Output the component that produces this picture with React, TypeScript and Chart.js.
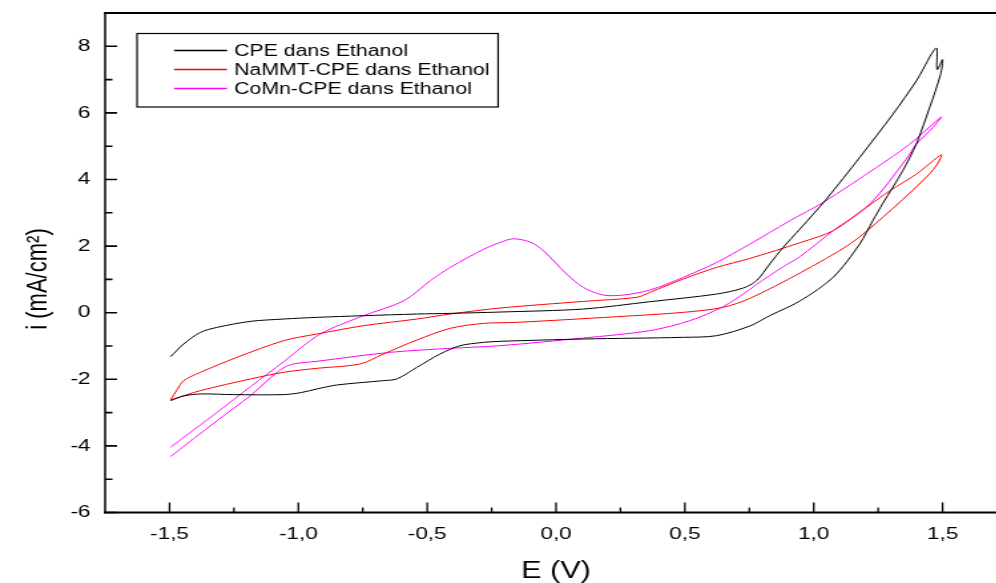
import React, { useEffect, useRef } from 'react';
import { Chart, registerables } from 'chart.js';

Chart.register(...registerables);

// The reference picture is stretched horizontally; the canvas is drawn narrow and widened by CSS.
const STRETCH = 1.33;
const CANVAS_W = 757;
const CANVAS_H = 583;
const FONT = '"Liberation Sans", Arial, Helvetica, sans-serif';

// Axis ticks
const xTicks = [-1.5, -1.0, -0.5, 0.0, 0.5, 1.0, 1.5];
const xMinorTicks = [-1.25, -0.75, -0.25, 0.25, 0.75, 1.25];
const yTicks = [-6, -4, -2, 0, 2, 4, 6, 8];
const yMinorTicks = [-5, -3, -1, 1, 3, 5, 7];

const xTitle = 'E (V)';
const yTitle = 'i (mA/cm²)';

const seriesLabels = ['CPE dans Ethanol', 'NaMMT-CPE dans Ethanol', 'CoMn-CPE dans Ethanol'];
const seriesColors = ['#000000', '#ff0000', '#ff00ff'];

// CPE dans Ethanol (black)
const cpeE = [-1.496, -1.445, -1.38, -1.315, -1.186, -1.057, -0.928, -0.747, -0.54, -0.411, -0.217, 0.106, 0.364, 0.623, 0.726, 0.778, 0.829, 0.881, 0.946, 1.049, 1.178, 1.307, 1.398, 1.475, 1.479, 1.5, 1.492, 1.45, 1.398, 1.346, 1.267, 1.229, 1.178, 1.075, 0.946, 0.829, 0.752, 0.623, 0.493, 0.106, -0.217, -0.28, -0.372, -0.45, -0.54, -0.618, -0.67, -0.85, -0.928, -0.99, -1.057, -1.25, -1.38, -1.445, -1.496];
const cpeI = [-1.32, -0.94, -0.59, -0.44, -0.26, -0.19, -0.14, -0.09, -0.04, -0.02, 0.02, 0.11, 0.33, 0.56, 0.74, 0.96, 1.46, 1.96, 2.51, 3.41, 4.66, 5.96, 6.96, 7.95, 7.3, 7.6, 7.15, 6.17, 5.07, 4.27, 3.27, 2.76, 2.06, 1.06, 0.35, -0.09, -0.4, -0.69, -0.74, -0.79, -0.86, -0.89, -0.99, -1.24, -1.64, -1.99, -2.04, -2.17, -2.29, -2.4, -2.46, -2.46, -2.44, -2.5, -2.64];

// NaMMT-CPE dans Ethanol (red)
const nammtE = [-1.496, -1.47, -1.445, -1.38, -1.238, -1.057, -0.928, -0.747, -0.54, -0.411, -0.217, 0.106, 0.312, 0.364, 0.493, 0.623, 0.752, 0.946, 1.075, 1.204, 1.295, 1.398, 1.495, 1.475, 1.423, 1.267, 1.14, 0.946, 0.752, 0.648, 0.493, 0.235, -0.153, -0.28, -0.411, -0.54, -0.67, -0.76, -0.928, -1.057, -1.186, -1.38, -1.496];
const nammtI = [-2.62, -2.3, -2.04, -1.79, -1.34, -0.84, -0.64, -0.39, -0.19, -0.04, 0.14, 0.34, 0.46, 0.61, 1.01, 1.36, 1.63, 2.1, 2.46, 3.16, 3.66, 4.16, 4.74, 4.41, 3.96, 2.86, 2.06, 1.19, 0.43, 0.16, 0.01, -0.12, -0.29, -0.32, -0.47, -0.82, -1.24, -1.54, -1.67, -1.79, -1.99, -2.34, -2.62];

// CoMn-CPE dans Ethanol (magenta)
const comnE = [-1.496, -1.315, -1.186, -1.057, -0.915, -0.747, -0.59, -0.488, -0.411, -0.28, -0.217, -0.166, -0.1, -0.049, 0.041, 0.106, 0.183, 0.261, 0.364, 0.493, 0.623, 0.752, 0.907, 1.036, 1.243, 1.372, 1.495, 1.462, 1.398, 1.359, 1.217, 1.075, 0.946, 0.881, 0.778, 0.752, 0.648, 0.519, 0.364, 0.106, -0.217, -0.411, -0.643, -0.928, -1.03, -1.083, -1.186, -1.315, -1.496];
const comnI = [-4.04, -2.99, -2.22, -1.47, -0.64, -0.09, 0.36, 0.96, 1.36, 1.91, 2.11, 2.22, 2.12, 1.86, 1.16, 0.76, 0.53, 0.53, 0.68, 1.06, 1.51, 2.06, 2.76, 3.31, 4.36, 5.06, 5.88, 5.56, 5.06, 4.61, 3.26, 2.46, 1.68, 1.38, 0.85, 0.7, 0.18, -0.24, -0.54, -0.76, -0.99, -1.07, -1.19, -1.46, -1.56, -1.79, -2.49, -3.24, -4.32];

const seriesE = [cpeE, nammtE, comnE];
const seriesI = [cpeI, nammtI, comnI];

const toPoints = (xs: number[], ys: number[]) => xs.map((x, k) => ({ x, y: ys[k] }));

const decorPlugin = {
  id: 'decor',
  afterDraw(chart: any) {
    const { ctx, chartArea: a, scales } = chart;
    const xs = scales.x;
    const ys = scales.y;
    ctx.save();
    ctx.strokeStyle = '#000';
    ctx.fillStyle = '#000';
    ctx.lineCap = 'butt';

    // frame: left axis, bottom axis, top border
    ctx.lineWidth = 1.5;
    ctx.beginPath();
    ctx.moveTo(a.left, a.top - 1);
    ctx.lineTo(a.left, a.bottom + 1);
    ctx.stroke();
    ctx.lineWidth = 2;
    ctx.beginPath();
    ctx.moveTo(a.left - 0.75, a.bottom);
    ctx.lineTo(a.right, a.bottom);
    ctx.moveTo(a.left - 0.75, a.top);
    ctx.lineTo(a.right, a.top);
    ctx.stroke();

    // inward ticks
    ctx.lineWidth = 1.3;
    ctx.beginPath();
    xTicks.forEach((v) => {
      const p = xs.getPixelForValue(v);
      ctx.moveTo(p, a.bottom);
      ctx.lineTo(p, a.bottom - 10);
    });
    xMinorTicks.forEach((v) => {
      const p = xs.getPixelForValue(v);
      ctx.moveTo(p, a.bottom);
      ctx.lineTo(p, a.bottom - 5);
    });
    ctx.stroke();
    ctx.lineWidth = 1.6;
    ctx.beginPath();
    yTicks.forEach((v) => {
      const p = ys.getPixelForValue(v);
      ctx.moveTo(a.left, p);
      ctx.lineTo(a.left + 9, p);
    });
    yMinorTicks.forEach((v) => {
      const p = ys.getPixelForValue(v);
      ctx.moveTo(a.left, p);
      ctx.lineTo(a.left + 5.5, p);
    });
    ctx.stroke();

    // axis titles
    ctx.font = `23px ${FONT}`;
    ctx.textAlign = 'center';
    ctx.textBaseline = 'alphabetic';
    ctx.fillText(xTitle, 556 / STRETCH, 578);
    ctx.save();
    ctx.translate(47 / STRETCH, 279);
    ctx.rotate(-Math.PI / 2);
    ctx.font = `22px ${FONT}`;
    ctx.fillText(yTitle, 0, 0);
    ctx.restore();

    // legend
    const bx0 = 137 / STRETCH;
    const bx1 = 498 / STRETCH;
    const by0 = 33.5;
    const by1 = 107;
    ctx.lineWidth = 1.2;
    ctx.strokeRect(bx0, by0, bx1 - bx0, by1 - by0);
    const rowsY = [50.5, 69.5, 88.5];
    ctx.font = `16px ${FONT}`;
    ctx.textAlign = 'left';
    ctx.textBaseline = 'middle';
    seriesLabels.forEach((label, k) => {
      ctx.strokeStyle = seriesColors[k];
      ctx.lineWidth = 1.3;
      ctx.beginPath();
      ctx.moveTo(174 / STRETCH, rowsY[k]);
      ctx.lineTo(227 / STRETCH, rowsY[k]);
      ctx.stroke();
      ctx.fillStyle = '#000';
      ctx.fillText(label, 234 / STRETCH, rowsY[k] + 1);
    });
    ctx.restore();
  },
};

export default function App() {
  const canvasRef = useRef<HTMLCanvasElement | null>(null);

  useEffect(() => {
    const canvas = canvasRef.current;
    if (!canvas) return;
    const chart = new Chart(canvas, {
      type: 'scatter',
      data: {
        datasets: seriesLabels.map((label, k) => ({
          label,
          data: toPoints(seriesE[k], seriesI[k]),
          showLine: true,
          borderColor: seriesColors[k],
          backgroundColor: seriesColors[k],
          borderWidth: 1,
          pointRadius: 0,
          pointHoverRadius: 0,
          tension: 0.3,
          fill: false,
        })),
      },
      options: {
        responsive: false,
        maintainAspectRatio: false,
        animation: false,
        devicePixelRatio: 1,
        events: [],
        layout: { padding: { top: 13, left: 0, right: 0, bottom: 0 } },
        plugins: {
          legend: { display: false },
          tooltip: { enabled: false },
          title: { display: false },
        },
        scales: {
          x: {
            type: 'linear',
            position: 'bottom',
            min: -1.75,
            max: 1.75,
            afterBuildTicks: (s: any) => {
              s.ticks = xTicks.map((v) => ({ value: v }));
            },
            afterFit: (s: any) => {
              s.height = 70.5;
              s.paddingLeft = 0;
              s.paddingRight = 0;
              s.paddingTop = 0;
              s.paddingBottom = 0;
            },
            grid: { display: false, drawTicks: false },
            border: { display: false },
            ticks: {
              padding: 12,
              color: '#000',
              font: { family: FONT, size: 17 },
              maxRotation: 0,
              autoSkip: false,
              callback: (v: any) => Number(v).toFixed(1).replace('.', ','),
            },
          },
          y: {
            type: 'linear',
            min: -6,
            max: 9,
            afterBuildTicks: (s: any) => {
              s.ticks = yTicks.map((v) => ({ value: v }));
            },
            afterFit: (s: any) => {
              s.width = 79;
              s.paddingLeft = 0;
              s.paddingRight = 0;
              s.paddingTop = 0;
              s.paddingBottom = 0;
            },
            grid: { display: false, drawTicks: false },
            border: { display: false },
            ticks: {
              padding: 11,
              color: '#000',
              font: { family: FONT, size: 17 },
              autoSkip: false,
              callback: (v: any) => String(v),
            },
          },
        },
      },
      plugins: [decorPlugin],
    });
    return () => chart.destroy();
  }, []);

  return (
    <div
      style={{
        position: 'fixed',
        left: 0,
        top: 0,
        width: 996,
        height: 583,
        overflow: 'hidden',
        background: '#fff',
      }}
    >
      <canvas
        ref={canvasRef}
        width={CANVAS_W}
        height={CANVAS_H}
        style={{ display: 'block', width: `${CANVAS_W * STRETCH}px`, height: `${CANVAS_H}px` }}
      />
    </div>
  );
}
